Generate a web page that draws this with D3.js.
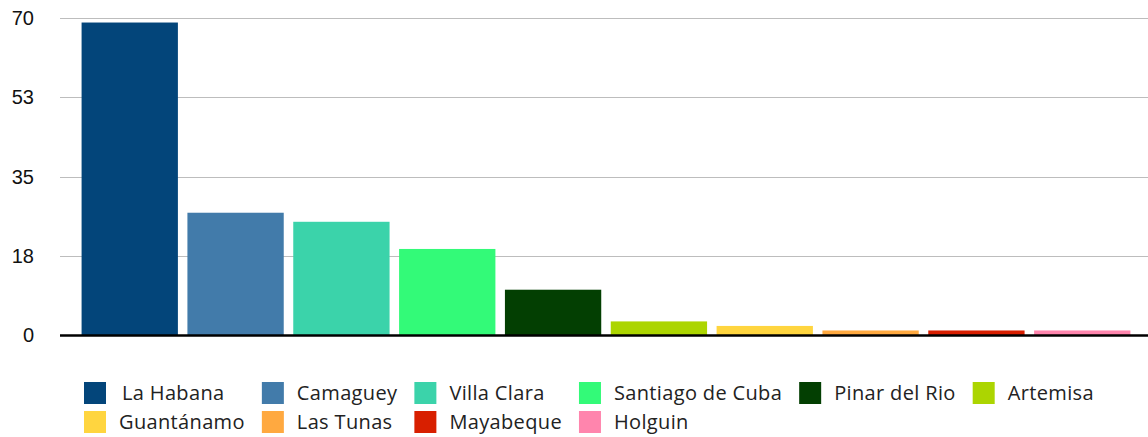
<!DOCTYPE html>
<html lang="en">
<head>
    <meta charset="UTF-8">
    <title>Provinces</title>
    <style>
        body {
            margin: 0;
            background: #fff;
        }
        .tick-label {
            font-family: "Liberation Sans", Arial, sans-serif;
            font-size: 20px;
            fill: #111;
        }
        .legend-label {
            font-family: "Open Sans", sans-serif;
            font-size: 20px;
            letter-spacing: 0.35px;
            fill: #222;
        }
    </style>
    <script src="https://d3js.org/d3.v7.min.js"></script>
</head>
<body>
<div id="chart"></div>

<script>
// data
var provinces = ["La Habana", "Camaguey", "Villa Clara", "Santiago de Cuba", "Pinar del Rio",
                 "Artemisa", "Guantánamo", "Las Tunas", "Mayabeque", "Holguin"];
var counts = [69, 27, 25, 19, 10, 3, 2, 1, 1, 1];
var colors = ["#03457a", "#427baa", "#3bd3aa", "#33fa78", "#033f02",
              "#acd501", "#ffd53f", "#ffa940", "#d81f00", "#ff85ad"];
var tickValues = [0, 17.5, 35, 52.5, 70];
var tickLabels = ["0", "18", "35", "53", "70"];

var width = 1148, height = 437;
var plotLeft = 60, plotRight = 1148, plotTop = 18, plotBottom = 335;

var svg = d3.select("#chart")
  .append("svg")
    .attr("width", width)
    .attr("height", height);

var x = d3.scaleBand()
  .domain(provinces)
  .range([71, 1141])
  .paddingInner(0.09)
  .paddingOuter(0.1);

var y = d3.scaleLinear()
  .domain([0, 70])
  .range([plotBottom, plotTop]);

// gridlines
svg.append("g")
  .selectAll("line")
  .data(tickValues.slice(1))
  .enter()
  .append("line")
    .attr("x1", plotLeft)
    .attr("x2", plotRight)
    .attr("y1", function(d) { return Math.round(y(d)) + 0.5; })
    .attr("y2", function(d) { return Math.round(y(d)) + 0.5; })
    .attr("stroke", "#bdbdbd")
    .attr("stroke-width", 1);

// y labels
svg.append("g")
  .selectAll("text")
  .data(tickValues)
  .enter()
  .append("text")
    .attr("class", "tick-label")
    .attr("x", 34)
    .attr("y", function(d) { return y(d); })
    .attr("dy", "0.35em")
    .attr("text-anchor", "end")
    .text(function(d, i) { return tickLabels[i]; });

// bars
svg.append("g")
  .selectAll("rect")
  .data(counts)
  .enter()
  .append("rect")
    .attr("x", function(d, i) { return x(provinces[i]); })
    .attr("width", x.bandwidth())
    .attr("y", function(d) { return y(d); })
    .attr("height", function(d) { return y(0) - y(d); })
    .attr("fill", function(d, i) { return colors[i]; });

// baseline
svg.append("line")
  .attr("x1", plotLeft)
  .attr("x2", plotRight)
  .attr("y1", plotBottom + 0.5)
  .attr("y2", plotBottom + 0.5)
  .attr("stroke", "#000")
  .attr("stroke-width", 2.5);

// legend: 6 columns, 2 rows, column width from widest label
var perRow = 6, swatch = 22, textGap = 13, colGap = 17;
var legend = svg.append("g");
var items = legend.selectAll("g")
  .data(provinces)
  .enter()
  .append("g");

items.append("rect")
  .attr("width", swatch)
  .attr("height", swatch)
  .attr("fill", function(d, i) { return colors[i]; });

items.append("text")
  .attr("class", "legend-label")
  .attr("x", function(d, i) { return swatch + textGap + (i === 0 ? 3 : 0); })
  .attr("y", swatch / 2)
  .attr("dy", "0.35em")
  .text(function(d) { return d; });

var colWidths = [];
items.each(function(d, i) {
  var w = this.querySelector("text").getComputedTextLength();
  var c = i % perRow;
  colWidths[c] = Math.max(colWidths[c] || 0, w);
});
var colX = [84];
for (var c = 1; c < perRow; c++) {
  colX[c] = colX[c - 1] + swatch + textGap + colWidths[c - 1] + colGap;
}
items.attr("transform", function(d, i) {
  return "translate(" + colX[i % perRow] + "," + (382 + Math.floor(i / perRow) * 29) + ")";
});
</script>
</body>
</html>
